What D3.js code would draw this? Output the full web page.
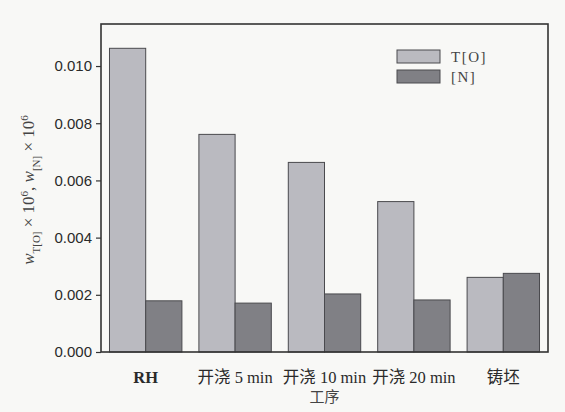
<!DOCTYPE html>
<html>
<head>
<meta charset="utf-8">
<script src="https://cdn.jsdelivr.net/npm/d3@7"></script>
<style>
  body { margin: 0; background: #f8f8f6; }
  svg { display: block; }
</style>
</head>
<body>
<svg width="565" height="412"></svg>
<script>
// data
var categories = ["RH", "开浇 5 min", "开浇 10 min", "开浇 20 min", "铸坯"];
var seriesNames = ["T[O]", "[N]"];
var valuesTO = [0.01062, 0.00761, 0.00663, 0.00526, 0.00261];
var valuesN = [0.00179, 0.00171, 0.00203, 0.00182, 0.00275];
var yTicks = [0, 0.002, 0.004, 0.006, 0.008, 0.010];

var svg = d3.select("svg"),
    margin = {top: 24, right: 17, bottom: 60, left: 101},
    width = 565 - margin.left - margin.right,
    height = 412 - margin.top - margin.bottom;

var colors = ["#babac0", "#808085"];

var g = svg.append("g")
    .attr("transform", "translate(" + margin.left + "," + margin.top + ")");

var x = d3.scaleBand()
    .domain(categories)
    .range([0, width])
    .paddingInner(0.19)
    .paddingOuter(0.095);

var x1 = d3.scaleBand()
    .domain(seriesNames)
    .range([0, x.bandwidth()]);

var y = d3.scaleLinear()
    .domain([0, 0.01147])
    .range([height, 0]);

var rows = categories.map(function(c, i) {
  return {cat: c, vals: [valuesTO[i], valuesN[i]]};
});

// bars
g.selectAll(".grp")
  .data(rows)
  .enter().append("g")
    .attr("transform", function(d) { return "translate(" + x(d.cat) + ",0)"; })
  .selectAll("rect")
  .data(function(d) { return d.vals.map(function(v, j) { return {k: seriesNames[j], v: v, j: j}; }); })
  .enter().append("rect")
    .attr("x", function(d) { return x1(d.k); })
    .attr("y", function(d) { return y(d.v); })
    .attr("width", x1.bandwidth())
    .attr("height", function(d) { return height - y(d.v); })
    .attr("fill", function(d) { return colors[d.j]; })
    .attr("stroke", "#4a4a4e")
    .attr("stroke-width", 1);

// frame
g.append("rect")
    .attr("width", width)
    .attr("height", height)
    .attr("fill", "none")
    .attr("stroke", "#333")
    .attr("stroke-width", 1.6);

// y axis
var yAxis = g.append("g")
    .call(d3.axisLeft(y).tickValues(yTicks).tickFormat(d3.format(".3f")).tickSize(5).tickPadding(4));
yAxis.select(".domain").remove();
yAxis.selectAll("line").attr("stroke", "#333").attr("stroke-width", 1.2);
yAxis.selectAll("text")
    .attr("fill", "#2a2a2a")
    .style("font-family", "Liberation Sans, Arial, sans-serif")
    .style("font-size", "15px");

// x labels
g.append("g")
  .selectAll("text")
  .data(categories)
  .enter().append("text")
    .attr("x", function(d) { return x(d) + x.bandwidth() / 2; })
    .attr("y", height + 31)
    .attr("text-anchor", "middle")
    .attr("fill", "#2a2a2a")
    .style("font-family", "Liberation Serif, Noto Sans CJK SC, serif")
    .style("font-size", "16.5px")
    .style("font-weight", function(d) { return d == "RH" ? "bold" : "normal"; })
    .text(function(d) { return d; });

g.append("text")
    .attr("x", width / 2)
    .attr("y", height + 50)
    .attr("text-anchor", "middle")
    .attr("fill", "#444")
    .style("font-family", "Noto Sans CJK SC, sans-serif")
    .style("font-size", "15px")
    .text("工序");

// y title
var yt = svg.append("text")
    .attr("transform", "translate(34,190) rotate(-90)")
    .attr("text-anchor", "middle")
    .attr("fill", "#444")
    .style("font-family", "Liberation Serif, serif")
    .style("font-size", "17px");
yt.append("tspan").style("font-style", "italic").text("w");
yt.append("tspan").attr("baseline-shift", "sub").style("font-size", "11px").text("T[O]");
yt.append("tspan").text(" × 10");
yt.append("tspan").attr("baseline-shift", "super").style("font-size", "11px").text("6");
yt.append("tspan").text(", ");
yt.append("tspan").style("font-style", "italic").text("w");
yt.append("tspan").attr("baseline-shift", "sub").style("font-size", "11px").text("[N]");
yt.append("tspan").text(" × 10");
yt.append("tspan").attr("baseline-shift", "super").style("font-size", "11px").text("6");

// legend
var leg = svg.append("g").attr("transform", "translate(397,50)");
var li = leg.selectAll("g")
  .data(seriesNames)
  .enter().append("g")
    .attr("transform", function(d, i) { return "translate(0," + i * 20 + ")"; });
li.append("rect")
    .attr("width", 43)
    .attr("height", 13)
    .attr("fill", function(d, i) { return colors[i]; })
    .attr("stroke", "#4a4a4e");
li.append("text")
    .attr("x", 54)
    .attr("y", 12)
    .attr("fill", "#444")
    .style("font-family", "Liberation Serif, serif")
    .style("font-size", "15px")
    .style("letter-spacing", "1.5px")
    .text(function(d) { return d; });
</script>
</body>
</html>
